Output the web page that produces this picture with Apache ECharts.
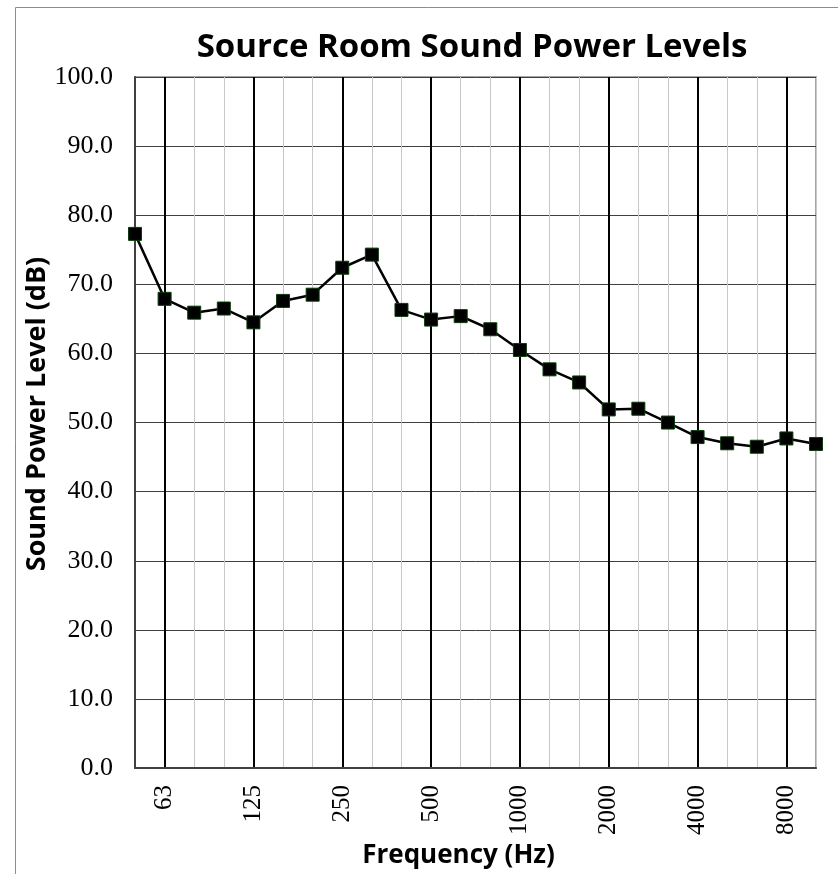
<!DOCTYPE html>
<html>
<head>
<meta charset="utf-8">
<script src="https://cdn.jsdelivr.net/npm/echarts@6/dist/echarts.min.js"></script>
<style>
html,body{margin:0;padding:0;background:#fff;}
#chart{width:838px;height:874px;}
</style>
</head>
<body>
<div id="chart"></div>
<script>
const frequencies = ['50','63','80','100','125','160','200','250','315','400','500','630','800','1000','1250','1600','2000','2500','3150','4000','5000','6300','8000','10000'];
const soundPower = [77.3,67.9,65.9,66.5,64.5,67.6,68.5,72.4,74.3,66.3,64.9,65.4,63.5,60.5,57.7,55.8,51.9,52.0,50.0,47.9,47.0,46.5,47.7,46.9];
const octaveLabels = ['63','125','250','500','1000','2000','4000','8000'];
const chartTitle = 'Source Room Sound Power Levels';
const xName = 'Frequency (Hz)';
const yName = 'Sound Power Level (dB)';

const isOctave = (i) => octaveLabels.indexOf(frequencies[i]) >= 0;
const nameFont = {fontFamily: 'Open Sans', fontWeight: 'bold', fontSize: 26, color: '#000'};

const chart = echarts.init(document.getElementById('chart'));
const option = {
  backgroundColor: '#fff',
  animation: false,
  title: {
    text: chartTitle,
    left: 467,
    textAlign: 'center',
    top: 26,
    textStyle: {fontFamily: 'Open Sans', fontWeight: 'bold', fontSize: 33, color: '#000'}
  },
  graphic: [{
    type: 'rect', silent: true, z: -10,
    shape: {x: 15.5, y: 7.5, width: 900, height: 900},
    style: {fill: 'none', stroke: '#8c8c8c', lineWidth: 1}
  }, {
    type: 'text', silent: true,
    x: 37, y: 414, rotation: Math.PI / 2,
    style: {
      text: yName, fill: '#000',
      font: 'bold 27px "Open Sans"',
      align: 'center', verticalAlign: 'middle',
      textAlign: 'center', textVerticalAlign: 'middle'
    }
  }],
  grid: {
    left: 135, right: 22, top: 77, bottom: 103,
    show: true, borderColor: '#a6a6a6', borderWidth: 2, backgroundColor: 'transparent'
  },
  xAxis: [{
    type: 'category',
    data: frequencies,
    boundaryGap: false,
    name: xName,
    nameLocation: 'middle',
    nameGap: 61,
    nameTextStyle: Object.assign({padding: [0, 34, 0, 0]}, nameFont),
    axisLine: {show: true, lineStyle: {color: '#404040', width: 2}},
    axisTick: {show: false},
    axisLabel: {
      interval: (i) => isOctave(i),
      rotate: 90, margin: 17,
      fontFamily: 'Liberation Serif', fontSize: 25, color: '#000'
    },
    splitLine: {show: true, interval: (i) => !isOctave(i), lineStyle: {color: '#c8c8c8', width: 1}}
  }, {
    type: 'category',
    data: frequencies,
    boundaryGap: false,
    position: 'bottom',
    axisLine: {show: false},
    axisTick: {show: false},
    axisLabel: {show: false},
    splitLine: {show: true, interval: (i) => isOctave(i), lineStyle: {color: '#000', width: 2}}
  }],
  yAxis: {
    type: 'value',
    min: 0, max: 100, interval: 10,
    axisLine: {show: true, lineStyle: {color: '#404040', width: 2}},
    axisTick: {show: false},
    axisLabel: {
      margin: 22,
      formatter: (v) => v.toFixed(1),
      fontFamily: 'Liberation Serif', fontSize: 26, color: '#000'
    },
    splitLine: {show: true, lineStyle: {color: '#404040', width: 1}}
  },
  series: [{
    type: 'line',
    data: soundPower,
    symbol: 'rect',
    symbolSize: 13,
    lineStyle: {color: '#000', width: 2.5},
    itemStyle: {color: '#000', borderColor: '#0b3d0b', borderWidth: 1},
    z: 5
  }]
};
chart.setOption(option);
</script>
</body>
</html>
